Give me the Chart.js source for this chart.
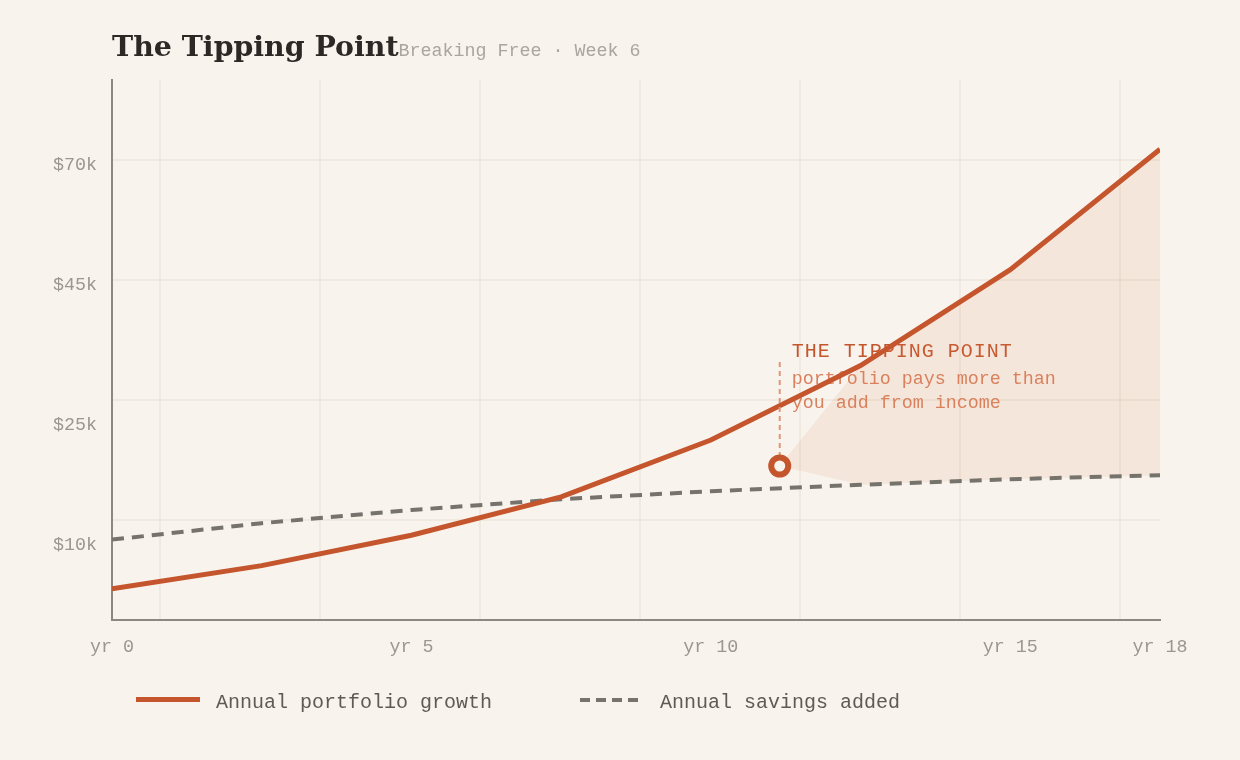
<!DOCTYPE html>
<html>
<head>
<meta charset="utf-8">
<title>The Tipping Point</title>
<script src="https://cdn.jsdelivr.net/npm/chart.js@4.4.1/dist/chart.umd.min.js"></script>
<style>
    html, body { margin: 0; background: #f8f4ed; }
    #wrap { position: relative; width: 1240px; height: 760px; overflow: hidden; }
    #chart { position: absolute; left: 0; top: 0; }
    .head { position: absolute; left: 112px; top: 29px; white-space: nowrap; font: bold 28.4px "DejaVu Serif", serif; }
    .title { color: #2b2825; }
    .sub { font: 18.33px "Liberation Mono", monospace; color: #aaa59e; }
    .legend { position: absolute; left: 136px; top: 691px; display: flex; align-items: center; gap: 88px;
              font: 20px "Liberation Mono", monospace; color: #5f5a55; white-space: nowrap; }
    .item { display: flex; align-items: center; gap: 16px; }
    .swatch { width: 64px; height: 5px; position: relative; top: -3px; }
</style>
</head>
<body>
<div id="wrap">
    <canvas id="chart" width="1240" height="760"></canvas>
    <div class="head"><span class="title">The Tipping Point</span><span class="sub">Breaking Free · Week 6</span></div>
    <div class="legend" id="legend"></div>
</div>
<script>
// point positions along the x axis, only some carry a label
const stepLabels = ['yr 0', '', 'yr 5', '', 'yr 10', '', 'yr 15', 'yr 18'];
const portfolio = [3.9, 6.8, 10.6, 15.4, 22.5, 31.8, 43.8, 58.85];
const savings = [10.05, 12.1, 13.75, 15.1, 16.1, 16.9, 17.6, 18.1];
const seriesNames = ['Annual portfolio growth', 'Annual savings added'];

const yTickValues = [9.4, 24.4, 41.9, 56.9];
const yTickLabels = ['$10k', '$25k', '$45k', '$70k'];
const yGridValues = [12.5, 27.5, 42.5, 57.5];
const xGridValues = [0, 1, 2, 3, 4, 5, 6];

const tipPoint = { x: 4.46, y: 19.25 };
const tipLabelTop = 32.5;
const tipTitle = 'THE TIPPING POINT';
const tipText = ['portfolio pays more than', 'you add from income'];

const BG = '#f8f4ed';
const ORANGE = '#c4552d';
const GREY = '#76726c';
const MONO = '"Liberation Mono", monospace';

const toPoints = arr => arr.map((v, i) => ({ x: i, y: v }));
const firstAfterTip = Math.ceil(tipPoint.x);
const gapTop = [tipPoint].concat(toPoints(portfolio).slice(firstAfterTip));
const gapBottom = [tipPoint].concat(toPoints(savings).slice(firstAfterTip));

function buildLegend() {
    const el = document.getElementById('legend');
    el.innerHTML = `
        <div class="item"><span class="swatch" style="background:${ORANGE}"></span><span>${seriesNames[0]}</span></div>
        <div class="item"><span class="swatch" style="height:4px;background:repeating-linear-gradient(90deg, ${GREY} 0 10px, transparent 10px 16px)"></span><span>${seriesNames[1]}</span></div>
    `;
}

// label next to the tipping point, drawn under the lines
const tipNote = {
    id: 'tipNote',
    beforeDatasetsDraw(chart) {
        const { ctx, scales } = chart;
        const px = scales.x.getPixelForValue(tipPoint.x) + 12;
        const py = scales.y.getPixelForValue(tipLabelTop);
        ctx.save();
        ctx.textAlign = 'left';
        ctx.textBaseline = 'alphabetic';
        ctx.fillStyle = ORANGE;
        ctx.font = '20px "Liberation Mono"';
        ctx.letterSpacing = '1px';
        ctx.fillText(tipTitle, px, py - 3);
        ctx.letterSpacing = '0px';
        ctx.fillStyle = '#d9805e';
        ctx.font = '18.33px "Liberation Mono"';
        tipText.forEach((t, i) => ctx.fillText(t, px, py + 24 + i * 24));
        ctx.restore();
    }
};

const gridColor = 'rgba(140, 110, 80, 0.08)';

function renderChart() {
    const ctx = document.getElementById('chart').getContext('2d');
    new Chart(ctx, {
        type: 'line',
        data: {
            datasets: [
                {
                    label: 'tip',
                    data: [tipPoint],
                    showLine: false,
                    pointRadius: 8.5,
                    pointBorderWidth: 6,
                    pointBackgroundColor: BG,
                    pointBorderColor: ORANGE,
                    order: 0
                },
                {
                    label: 'guide',
                    data: [tipPoint, { x: tipPoint.x, y: tipLabelTop }],
                    borderColor: '#de9678',
                    borderWidth: 2,
                    borderDash: [5, 4],
                    pointRadius: 0,
                    order: 1
                },
                {
                    label: seriesNames[0],
                    data: toPoints(portfolio),
                    borderColor: ORANGE,
                    borderWidth: 5,
                    pointRadius: 0,
                    tension: 0,
                    order: 2
                },
                {
                    label: seriesNames[1],
                    data: toPoints(savings),
                    borderColor: GREY,
                    borderWidth: 4,
                    borderDash: [12, 8],
                    pointRadius: 0,
                    tension: 0,
                    order: 3
                },
                {
                    label: 'gapTop',
                    data: gapTop,
                    borderWidth: 0,
                    pointRadius: 0,
                    fill: false,
                    order: 4
                },
                {
                    label: 'gapBottom',
                    data: gapBottom,
                    borderWidth: 0,
                    pointRadius: 0,
                    backgroundColor: 'rgba(222, 130, 80, 0.12)',
                    fill: 4,
                    order: 5
                }
            ].map(d => Object.assign({ xAxisID: 'x', yAxisID: 'y' }, d))
        },
        options: {
            responsive: false,
            animation: false,
            layout: { padding: { left: 0, top: 80, right: 80, bottom: 100 } },
            plugins: {
                legend: { display: false },
                title: { display: false },
                tooltip: { enabled: false }
            },
            scales: {
                x: {
                    type: 'linear',
                    min: 0,
                    max: stepLabels.length - 1,
                    afterBuildTicks: s => {
                        s.ticks = stepLabels.map((l, i) => ({ value: i })).filter(t => stepLabels[t.value]);
                    },
                    afterFit: s => { s.height = 40; },
                    ticks: {
                        callback: v => stepLabels[v],
                        autoSkip: false,
                        maxRotation: 0,
                        padding: 16,
                        color: '#9b968f',
                        font: { family: MONO, size: 18.33 }
                    },
                    grid: { display: false, drawTicks: false },
                    border: { display: true, color: '#8c8780', width: 2 }
                },
                y: {
                    type: 'linear',
                    min: 0,
                    max: 67.5,
                    afterBuildTicks: s => { s.ticks = yTickValues.map(v => ({ value: v })); },
                    afterFit: s => { s.width = 112; },
                    ticks: {
                        callback: (v, i) => yTickLabels[i],
                        padding: 15,
                        color: '#9b968f',
                        font: { family: MONO, size: 18.33 }
                    },
                    grid: { display: false, drawTicks: false },
                    border: { display: true, color: '#8c8780', width: 2 }
                },
                xg: {
                    type: 'linear',
                    position: 'bottom',
                    min: -0.3,
                    max: 6.25,
                    afterBuildTicks: s => { s.ticks = xGridValues.map(v => ({ value: v })); },
                    afterFit: s => { s.height = 0; },
                    ticks: { display: false },
                    grid: { color: gridColor, lineWidth: 2, drawTicks: false },
                    border: { display: false }
                },
                yg: {
                    type: 'linear',
                    position: 'left',
                    min: 0,
                    max: 67.5,
                    afterBuildTicks: s => { s.ticks = yGridValues.map(v => ({ value: v })); },
                    afterFit: s => { s.width = 0; },
                    ticks: { display: false },
                    grid: { color: gridColor, lineWidth: 2, drawTicks: false },
                    border: { display: false }
                }
            }
        },
        plugins: [tipNote]
    });
}

buildLegend();
renderChart();
</script>
</body>
</html>
